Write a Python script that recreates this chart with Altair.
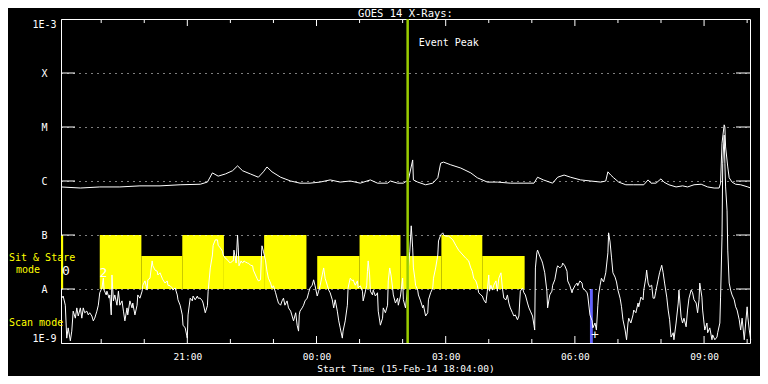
import json
import altair as alt
import pandas as pd

# ---------------- data ----------------
START = pd.Timestamp("2014-02-15 18:04:00")   # plot start time (UTC)
END_MINUTE = 960                              # 16 hours of data

# GOES 14 long channel (1-8 A): minutes after start, log10(flux W/m^2)
long_minutes = [0, 27, 54, 82, 110, 138, 166, 194, 204, 211, 219, 229, 239, 246, 253, 264, 275,
                282, 287, 294, 306, 320, 333, 347, 361, 375, 389, 403, 417, 431, 441, 455, 459,
                469, 477, 484, 490, 491, 497, 508, 518, 525, 529, 533, 543, 557, 571, 580, 594,
                608, 626, 645, 659, 664, 672, 685, 692, 701, 710, 724, 738, 752, 759, 762, 766,
                770, 777, 787, 798, 812, 818, 822, 829, 836, 840, 847, 857, 866, 873, 882, 892,
                901, 910, 917, 919, 921, 924, 925, 926, 929, 931, 935, 940, 947, 957, 961]
long_log10 = [-6.11, -6.13, -6.11, -6.11, -6.09, -6.09, -6.07, -6.06, -6.02, -5.85, -5.91, -5.87,
              -5.81, -5.72, -5.81, -5.87, -5.93, -5.83, -5.74, -5.83, -5.93, -6.00, -6.04, -6.04,
              -6.02, -5.98, -6.02, -6.00, -6.04, -5.98, -6.04, -6.04, -6.00, -6.04, -6.04, -5.98,
              -5.61, -5.98, -6.02, -6.07, -6.04, -5.94, -5.67, -5.65, -5.70, -5.76, -5.85, -5.94,
              -6.02, -6.02, -6.04, -6.04, -6.04, -5.93, -5.98, -6.04, -5.93, -5.89, -5.93, -5.98,
              -6.00, -6.02, -6.00, -5.83, -5.89, -5.94, -6.02, -6.07, -6.07, -6.07, -5.98, -6.04,
              -6.04, -5.96, -6.02, -6.07, -6.11, -6.09, -6.11, -6.07, -6.06, -6.11, -6.13, -6.13,
              -6.04, -5.30, -4.96, -5.00, -5.37, -5.74, -5.94, -6.02, -6.06, -6.07, -6.11, -6.13]

# GOES 14 short channel (0.5-4 A): minutes after start, log10(flux W/m^2)
short_minutes = [1, 3, 6, 8, 10, 13, 15, 17, 20, 22, 24, 27, 29, 31, 33, 36, 38, 40, 43, 45, 47, 50,
                 52, 54, 57, 59, 60, 63, 64, 67, 68, 70, 71, 73, 75, 78, 80, 82, 85, 87, 89, 92, 93,
                 96, 99, 100, 103, 106, 107, 110, 113, 114, 117, 120, 121, 124, 127, 128, 131, 134,
                 135, 138, 141, 142, 145, 148, 149, 152, 155, 156, 159, 162, 163, 166, 169, 170, 173,
                 176, 177, 180, 183, 184, 187, 190, 191, 194, 197, 198, 201, 204, 205, 208, 211, 212,
                 215, 218, 219, 222, 225, 226, 229, 232, 233, 236, 239, 240, 241, 244, 246, 247, 248,
                 251, 253, 255, 257, 260, 261, 264, 267, 268, 271, 273, 275, 278, 279, 280, 282, 285,
                 287, 289, 292, 294, 296, 299, 301, 303, 306, 308, 310, 312, 315, 317, 320, 322, 324,
                 327, 329, 331, 332, 333, 336, 338, 340, 343, 345, 347, 350, 352, 354, 357, 359, 361,
                 364, 366, 368, 371, 373, 375, 378, 380, 382, 385, 387, 389, 392, 393, 396, 399, 400,
                 403, 406, 407, 410, 413, 414, 417, 420, 421, 423, 426, 427, 428, 430, 431, 434, 435,
                 438, 441, 442, 445, 448, 449, 452, 455, 456, 458, 460, 462, 463, 466, 469, 470, 473,
                 476, 477, 480, 483, 484, 486, 488, 490, 491, 493, 494, 497, 498, 501, 504, 505, 508,
                 511, 512, 515, 518, 519, 522, 525, 526, 529, 532, 533, 536, 540, 546, 550, 554, 560,
                 564, 568, 571, 573, 575, 578, 580, 582, 585, 587, 589, 592, 594, 596, 597, 599, 601,
                 603, 606, 608, 610, 613, 615, 617, 620, 622, 624, 626, 629, 631, 633, 636, 638, 640,
                 643, 645, 647, 650, 652, 654, 657, 659, 660, 661, 663, 664, 667, 670, 671, 674, 677,
                 678, 681, 684, 685, 688, 691, 692, 695, 698, 699, 702, 705, 706, 709, 712, 713, 716,
                 719, 720, 723, 726, 727, 730, 733, 734, 737, 740, 741, 744, 746, 748, 749, 751, 753,
                 756, 759, 762, 763, 765, 767, 769, 772, 774, 776, 779, 781, 783, 786, 788, 790, 791,
                 794, 797, 798, 801, 804, 805, 808, 811, 812, 815, 816, 818, 820, 823, 825, 827, 830,
                 832, 834, 837, 839, 841, 844, 846, 848, 850, 853, 854, 857, 860, 861, 864, 866, 868,
                 871, 873, 875, 878, 880, 882, 885, 887, 889, 890, 893, 894, 897, 900, 901, 904, 907,
                 908, 911, 914, 915, 918, 919, 921, 922, 924, 925, 926, 928, 929, 931, 933, 935, 938,
                 940, 942, 945, 947, 949, 952, 954, 956, 957, 959, 961]
short_log10 = [-8.17, -8.13, -8.30, -8.91, -8.72, -8.96, -8.78, -8.41, -8.54, -8.35, -8.50, -8.35,
               -8.54, -8.35, -8.44, -8.41, -8.48, -8.44, -8.50, -8.59, -8.54, -8.41, -8.30, -8.07,
               -7.98, -7.80, -8.02, -8.11, -8.04, -8.17, -8.11, -8.48, -7.74, -8.22, -8.11, -8.30,
               -8.04, -8.30, -8.22, -8.41, -8.59, -8.35, -8.48, -8.22, -8.35, -8.26, -8.48, -8.30,
               -8.11, -8.17, -8.04, -7.93, -7.85, -8.02, -7.83, -7.80, -7.48, -7.57, -7.65, -7.67,
               -7.74, -7.70, -7.80, -7.83, -7.89, -7.85, -7.93, -7.94, -7.98, -8.02, -7.98, -8.11,
               -8.20, -8.30, -8.48, -8.67, -8.72, -8.91, -8.48, -8.17, -8.22, -8.13, -8.20, -8.13,
               -8.17, -8.17, -8.22, -8.26, -8.44, -8.31, -8.04, -7.61, -7.37, -7.19, -7.09, -7.09,
               -7.19, -7.24, -7.30, -7.37, -7.43, -7.46, -7.48, -7.52, -7.48, -7.48, -7.28, -7.52,
               -7.00, -7.24, -7.57, -7.48, -7.52, -7.48, -7.50, -7.52, -7.52, -7.56, -7.57, -7.65,
               -7.74, -7.80, -7.85, -7.83, -7.48, -7.20, -7.30, -7.48, -7.67, -7.80, -7.89, -7.98,
               -7.94, -8.07, -8.17, -8.26, -8.30, -8.22, -8.17, -8.30, -8.22, -8.35, -8.41, -8.50,
               -8.59, -8.44, -8.67, -8.78, -8.48, -8.41, -8.35, -8.30, -8.22, -8.17, -8.07, -7.98,
               -7.93, -7.83, -7.94, -8.13, -8.04, -7.94, -7.74, -7.61, -7.80, -7.93, -8.02, -8.07,
               -8.20, -8.35, -8.20, -8.41, -8.59, -8.72, -8.91, -8.78, -8.59, -8.30, -7.98, -7.80,
               -7.85, -7.83, -7.93, -7.85, -7.98, -7.94, -8.04, -8.22, -8.11, -7.93, -7.67, -7.48,
               -7.74, -8.04, -8.11, -8.02, -8.13, -8.07, -8.41, -8.67, -8.54, -8.35, -8.44, -8.30,
               -7.85, -7.61, -7.76, -7.98, -8.11, -8.26, -8.17, -8.30, -8.13, -7.80, -8.20, -8.35,
               -7.98, -7.61, -7.30, -6.83, -7.24, -7.61, -7.80, -7.93, -8.02, -8.11, -8.22, -8.35,
               -8.30, -8.50, -8.44, -8.20, -8.07, -7.98, -7.80, -7.61, -7.37, -7.11, -7.00, -6.96,
               -7.00, -7.02, -7.02, -7.09, -7.19, -7.28, -7.37, -7.43, -7.48, -7.61, -7.67, -7.80,
               -7.85, -7.93, -8.07, -8.11, -8.13, -8.20, -8.26, -8.04, -7.74, -8.04, -7.93, -8.02,
               -7.93, -7.85, -8.04, -7.80, -7.70, -7.98, -8.17, -8.20, -8.11, -8.26, -8.35, -8.44,
               -8.50, -8.48, -8.57, -8.50, -8.04, -7.98, -8.07, -8.11, -8.26, -8.35, -8.41, -8.50,
               -8.67, -8.76, -7.61, -7.33, -7.28, -7.39, -7.48, -7.52, -7.70, -8.04, -8.35, -8.11,
               -8.04, -7.93, -7.83, -7.61, -7.57, -7.61, -7.57, -7.52, -7.57, -7.67, -7.85, -7.94,
               -8.07, -8.02, -7.94, -7.89, -7.94, -7.85, -7.89, -7.98, -8.02, -8.07, -8.13, -8.48,
               -8.59, -8.72, -8.63, -8.76, -8.30, -8.11, -7.94, -7.80, -7.87, -7.70, -7.33, -6.96,
               -7.13, -7.41, -7.70, -7.78, -7.87, -8.02, -8.17, -8.33, -8.57, -8.76, -8.94, -8.63,
               -8.54, -8.63, -8.48, -8.39, -8.44, -8.26, -8.33, -8.15, -8.20, -8.02, -7.78, -7.65,
               -7.89, -7.96, -7.93, -8.17, -8.17, -7.96, -7.83, -7.70, -7.56, -7.70, -7.89, -8.15,
               -8.39, -8.57, -8.89, -8.81, -8.94, -8.63, -8.26, -8.02, -8.52, -8.63, -8.54, -8.70,
               -8.39, -8.17, -8.02, -8.07, -8.20, -8.26, -8.44, -8.20, -7.89, -8.15, -8.39, -8.76,
               -8.63, -8.81, -8.72, -8.94, -8.85, -8.94, -8.89, -8.81, -8.63, -8.15, -7.04, -5.67,
               -5.15, -5.67, -6.11, -6.54, -7.28, -7.89, -8.02, -8.11, -8.20, -8.33, -8.39, -8.57,
               -8.76, -8.54, -8.94, -8.63, -8.33, -8.52, -8.76, -8.94]

# pointing mode blocks ("Sit & Stare"): start/end minute, top level
sit_start = [0, 54, 112, 169, 227, 283, 357, 416, 473, 530, 587]
sit_end = [3, 112, 169, 227, 283, 342, 416, 473, 530, 587, 646]
sit_top = [-7.0, -7.0, -7.39, -7.0, -7.39, -7.0, -7.39, -7.0, -7.39, -7.0, -7.39]
sit_bottom = -8.0

# scan mode block
scan_start = [737]
scan_end = [741]
scan_top = [-8.0]
scan_bottom = -9.0

event_peak_minute = 483
event_label_level = -3.44

y_tick_values = [-9, -8, -7, -6, -5, -4, -3]
y_tick_labels = ["1E-9", "A", "B", "C", "M", "X", "1E-3"]
class_levels = [-8, -7, -6, -5, -4]
major_hour_minutes = [176, 356, 536, 716, 896]            # 21:00 00:00 03:00 06:00 09:00
minor_hour_minutes = [56, 116, 236, 296, 416, 476, 596, 656, 776, 836, 956]

marker_texts = ["0", "2", "+"]
marker_minutes = [7, 59, 744]
marker_log10 = [-7.67, -7.70, -8.85]

# ---------------- helpers ----------------
def ms(minute):
    return int((START + pd.Timedelta(minutes=minute)).timestamp() * 1000)

W, H = 689, 324
FONT = "DejaVu Sans Mono"

xscale = alt.Scale(type="utc", domain=[ms(0), ms(END_MINUTE)], nice=False)
yscale = alt.Scale(domain=[-9, -3], nice=False, zero=False)

xaxis = alt.Axis(values=[ms(m) for m in major_hour_minutes],
                 labelExpr="utcFormat(datum.value, '%H:%M')",
                 title="Start Time (15-Feb-14 18:04:00)", ticks=False, tickSize=0, domain=False,
                 grid=False, labelPadding=8, labelColor="white", labelFont=FONT, labelFontSize=9.5,
                 titleColor="white", titleFont=FONT, titleFontSize=9.5, titleFontWeight="normal",
                 titleY=25, titleBaseline="middle")
labels_js = json.dumps(y_tick_labels)
yaxis = alt.Axis(values=y_tick_values, labelExpr=f"{labels_js}[round(datum.value) + 9]",
                 title=None, ticks=False, tickSize=0, domain=False, grid=True,
                 gridColor="white", gridDash=[1, 5], gridWidth=1, gridOpacity=1,
                 labelAlign="center", labelPadding=17, labelFlush=True,
                 labelColor="white", labelFont=FONT, labelFontSize=10, zindex=1)

def X(field):
    return alt.X(field, type="temporal", scale=xscale, axis=xaxis)

def Y(field):
    return alt.Y(field, type="quantitative", scale=yscale, axis=yaxis)

# ---------------- tables ----------------
long_df = pd.DataFrame({"t": [ms(m) for m in long_minutes], "v": long_log10})
short_df = pd.DataFrame({"t": [ms(m) for m in short_minutes], "v": short_log10})
sit_df = pd.DataFrame({"t": [ms(m) for m in sit_start], "t2": [ms(m) for m in sit_end],
                       "v": [sit_bottom] * len(sit_start), "v2": sit_top})
scan_df = pd.DataFrame({"t": [ms(m) for m in scan_start], "t2": [ms(m) for m in scan_end],
                        "v": [scan_bottom] * len(scan_start), "v2": scan_top})
peak_df = pd.DataFrame({"t": [ms(event_peak_minute)], "v": [event_label_level], "label": ["Event Peak"]})
levels_df = pd.DataFrame({"v": class_levels})
major_df = pd.DataFrame({"t": [ms(m) for m in major_hour_minutes]})
minor_df = pd.DataFrame({"t": [ms(m) for m in minor_hour_minutes]})
marker_df = pd.DataFrame({"t": [ms(m) for m in marker_minutes], "v": marker_log10, "label": marker_texts})
sit_label_df = pd.DataFrame({"t": [ms(0)], "v": [-7.43], "label": ["Sit & Stare"]})
mode_label_df = pd.DataFrame({"t": [ms(0)], "v": [-7.65], "label": ["mode"]})
scan_label_df = pd.DataFrame({"t": [ms(0)], "v": [-8.63], "label": ["Scan mode"]})
title_df = pd.DataFrame({"label": ["GOES 14 X-Rays:"]})

# ---------------- layers ----------------
sit = alt.Chart(sit_df).mark_rect(color="#ffff00").encode(x=X("t"), x2="t2", y=Y("v"), y2="v2")
scan = alt.Chart(scan_df).mark_rect(color="#6464ff").encode(x=X("t"), x2="t2", y=Y("v"), y2="v2")
short_line = alt.Chart(short_df).mark_line(color="white", strokeWidth=1).encode(x=X("t"), y=Y("v"))
long_line = alt.Chart(long_df).mark_line(color="white", strokeWidth=1).encode(x=X("t"), y=Y("v"))
peak_rule = alt.Chart(peak_df).mark_rule(color="#99cc00", strokeWidth=2.5).encode(x=X("t"))
peak_text = alt.Chart(peak_df).mark_text(color="white", font=FONT, fontSize=10, align="left",
                                         baseline="middle", dx=11).encode(x=X("t"), y=Y("v"), text="label")
markers = alt.Chart(marker_df).mark_text(color="white", font=FONT, fontSize=13, baseline="middle").encode(
    x=X("t"), y=Y("v"), text="label")
sit_label = alt.Chart(sit_label_df).mark_text(color="#ffff00", font=FONT, fontSize=10, align="left",
                                              baseline="middle", dx=-52).encode(x=X("t"), y=Y("v"), text="label")
mode_label = alt.Chart(mode_label_df).mark_text(color="#ffff00", font=FONT, fontSize=10, align="center",
                                                baseline="middle", dx=-33).encode(x=X("t"), y=Y("v"), text="label")
scan_label = alt.Chart(scan_label_df).mark_text(color="#ffff00", font=FONT, fontSize=10, align="left",
                                                baseline="middle", dx=-52).encode(x=X("t"), y=Y("v"), text="label")
title = alt.Chart(title_df).mark_text(color="white", font=FONT, fontSize=10.5, align="center",
                                      baseline="alphabetic").encode(
    x=alt.value(W / 2), y=alt.value(-2.5), text="label")

ytick_l = alt.Chart(levels_df).mark_rule(color="white").encode(
    y=Y("v"), x=alt.value(0), x2=alt.value(14))
ytick_r = alt.Chart(levels_df).mark_rule(color="white").encode(
    y=Y("v"), x=alt.value(W - 14), x2=alt.value(W))
xmaj_b = alt.Chart(major_df).mark_rule(color="white").encode(x=X("t"), y=alt.value(H), y2=alt.value(H - 7))
xmaj_t = alt.Chart(major_df).mark_rule(color="white").encode(x=X("t"), y=alt.value(0), y2=alt.value(7))
xmin_b = alt.Chart(minor_df).mark_rule(color="white").encode(x=X("t"), y=alt.value(H), y2=alt.value(H - 4))
xmin_t = alt.Chart(minor_df).mark_rule(color="white").encode(x=X("t"), y=alt.value(0), y2=alt.value(4))

chart = alt.layer(
    sit, scan, short_line, long_line, peak_rule, peak_text, markers,
    sit_label, mode_label, scan_label, title,
    ytick_l, ytick_r, xmaj_b, xmaj_t, xmin_b, xmin_t
).properties(
    width=W, height=H,
    autosize=alt.AutoSizeParams(type="none"),
    padding={"left": 53, "top": 11, "right": 10, "bottom": 33},
    background="black",
).configure_view(
    stroke="white", strokeWidth=1, fill="black"
)

chart.save("out.html", embed_options={"renderer": "svg", "actions": False})
